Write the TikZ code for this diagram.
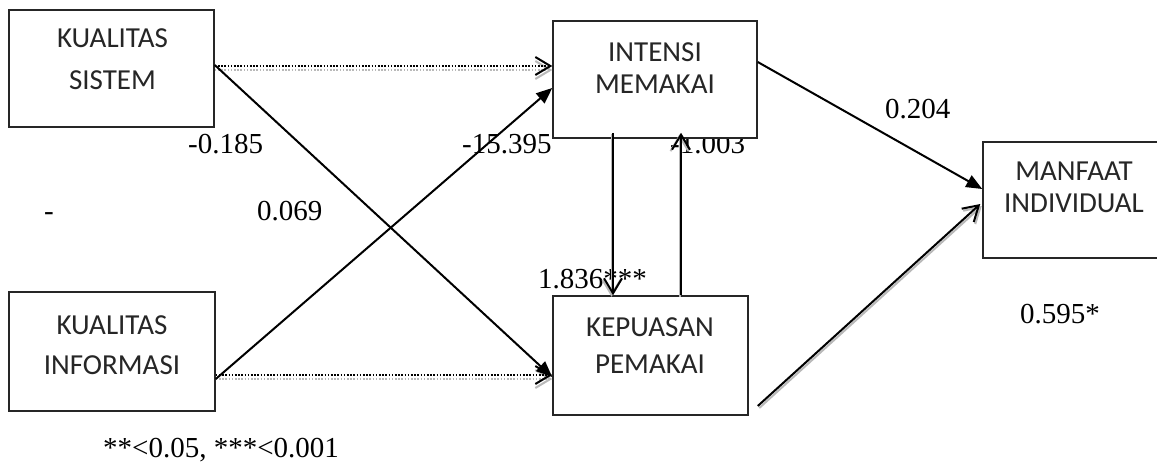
\documentclass[tikz,border=0pt]{standalone}
\usepackage{fontspec}
\setmainfont{Liberation Serif}
\newfontfamily\boxfont{Carlito}
\usetikzlibrary{arrows.meta,calc}

\begin{document}
\begin{tikzpicture}[x=1pt,y=-1pt,
  box/.style={draw=black!85, line width=1.5pt, fill=white, rectangle, inner sep=0pt},
  boxtext/.style={font=\boxfont\fontsize{29}{#1}\selectfont, align=center,
    inner sep=0pt, anchor=north, text=black!85},
  coef/.style={font=\fontsize{29}{34}\selectfont, inner sep=0pt, anchor=base west},
  link/.style={line width=2pt, -{Triangle[length=16pt,width=13pt]}},
  barb/.style={line width=2pt, -{Straight Barb[length=15pt,width=18pt]}},
  dotlink/.style={line width=1.7pt, dash pattern=on 1.6pt off 1.6pt,
    -{Straight Barb[length=15pt,width=18pt,line width=2pt]}},
  shade/.style={draw=gray!55, transform canvas={shift={#1}}}
]
\useasboundingbox (0,0) rectangle (1157,461);
\clip (0,0) rectangle (1157,461);

% path coefficients (the boxes drawn afterwards partly cover them)
\node[coef] (c1) at (188,153) {-0.185};
\node[coef] (c2) at (44,220) {-};
\node[coef] (c3) at (257,220) {0.069};
\node[coef] (c4) at (462,153) {-15.395};
\node[coef] (c5) at (670,153) {-1.003};
\node[coef] (c6) at (538,288) {1.836***};
\node[coef] (c7) at (885,118) {0.204};
\node[coef] (c8) at (1020,323) {0.595*};
\node[coef] (note) at (103,457) {**<0.05, ***<0.001};

% constructs
\node[box, minimum width=205pt, minimum height=117pt] (ks) at (111.5,68.5) {};
\node[box, minimum width=206pt, minimum height=119pt] (ki) at (112,351.5) {};
\node[box, minimum width=204pt, minimum height=117pt] (im) at (655,79.5) {};
\node[box, minimum width=195pt, minimum height=119pt] (kp) at (650.5,355.5) {};
\node[box, minimum width=184pt, minimum height=116pt] (mi) at (1075,200) {};

\node[boxtext=42] (ks-t) at (112.5,28) {KUALITAS\\SISTEM};
\node[boxtext=40] (ki-t) at (112,315) {KUALITAS\\INFORMASI};
\node[boxtext=32] (im-t) at (655,42) {INTENSI\\MEMAKAI};
\node[boxtext=37] (kp-t) at (650,317) {KEPUASAN\\PEMAKAI};
\node[boxtext=32] (mi-t) at (1074,162) {MANFAAT\\INDIVIDUAL};

% dotted paths
\draw[dotlink, shade={(0pt,-4pt)}] ([yshift=2.5pt]ks.east) -- ([yshift=2.5pt]ks.east -| im.west);
\draw[dotlink] ([yshift=2.5pt]ks.east) -- ([yshift=2.5pt]ks.east -| im.west);
\draw[dotlink, shade={(0pt,-4pt)}] ([yshift=-23.5pt]ki.east) -- ([yshift=-23.5pt]ki.east -| kp.west);
\draw[dotlink] ([yshift=-23.5pt]ki.east) -- ([yshift=-23.5pt]ki.east -| kp.west);

% crossing paths
\draw[link] ([yshift=3.5pt]ks.east) -- ([yshift=-21.5pt]kp.west);
\draw[link] ([yshift=-27.5pt]ki.east) -- ([yshift=-8.5pt]im.west);

% paths between intention and satisfaction
\draw[barb, shade={(-1.5pt,-1.5pt)}] ([xshift=-42pt,yshift=6pt]im.south) -- ([xshift=-37.5pt]kp.north);
\draw[barb] ([xshift=-42pt,yshift=6pt]im.south) -- ([xshift=-37.5pt]kp.north);
\draw[barb, shade={(-1.5pt,-1.5pt)}] ([xshift=30.5pt]kp.north) -- ([xshift=26pt,yshift=6pt]im.south);
\draw[barb] ([xshift=30.5pt]kp.north) -- ([xshift=26pt,yshift=6pt]im.south);

% paths to net benefits
\draw[link] ([yshift=17.5pt]im.east) -- ([yshift=11pt]mi.west);
\draw[barb, shade={(1.5pt,-2pt)}] ([xshift=9pt,yshift=-50.5pt]kp.east) -- ([xshift=-2pt,yshift=-4pt]mi.west);
\draw[barb] ([xshift=9pt,yshift=-50.5pt]kp.east) -- ([xshift=-2pt,yshift=-4pt]mi.west);
\end{tikzpicture}
\end{document}
